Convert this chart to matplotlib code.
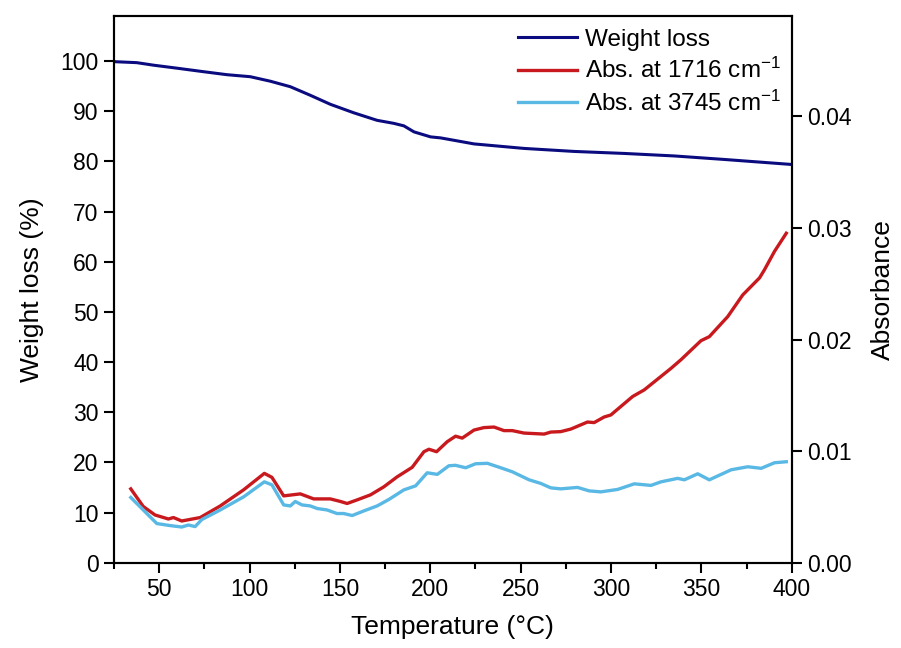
import matplotlib
matplotlib.use("Agg")
import matplotlib.pyplot as plt
import matplotlib.ticker as ticker

plt.rcParams["font.family"] = ["Liberation Sans", "DejaVu Sans"]
plt.rcParams["mathtext.default"] = "regular"

# TGA weight loss (%) vs temperature (°C)
temp_wl = [25, 37.6, 46.8, 59.8, 74.5, 87.5, 100.4, 111.5, 122.6, 133.6, 144.7,
           157.7, 170.6, 179.8, 185.4, 191.0, 200.2, 205.7, 215.0, 224.2, 251.9,
           279.6, 307.3, 335.0, 362.7, 400.0]
weight_loss = [99.9, 99.7, 99.2, 98.6, 97.9, 97.3, 96.9, 96.0, 94.9, 93.2, 91.4,
               89.7, 88.2, 87.6, 87.1, 85.9, 84.9, 84.7, 84.1, 83.5, 82.6,
               82.0, 81.6, 81.1, 80.4, 79.4]

# IR absorbance at 1716 cm-1
temp_1716 = [34.3, 41.2, 47.7, 55.1, 57.9, 62.5, 72.7, 83.8, 96.7, 108.2, 112.4,
             118.9, 128.1, 135.5, 144.7, 150.3, 154.0, 159.5, 166.9, 174.3, 181.7,
             190.0, 196.5, 199.3, 203.5, 209.4, 214.0, 217.7, 224.2, 229.7, 235.3,
             240.8, 245.4, 251.9, 263.0, 266.7, 272.2, 277.8, 287.0, 290.7, 296.2,
             299.9, 312.0, 318.4, 333.2, 338.7, 349.8, 354.4, 364.6, 372.9, 382.2,
             384.9, 390.5, 397.0]
abs_1716 = [0.00662, 0.00504, 0.00428, 0.00392, 0.00405, 0.00374, 0.00405, 0.00509,
            0.00653, 0.00801, 0.00765, 0.00599, 0.00617, 0.00572, 0.00572, 0.00549,
            0.00531, 0.00563, 0.00608, 0.00680, 0.00770, 0.00855, 0.00995, 0.01017,
            0.00995, 0.01085, 0.01134, 0.01117, 0.01189, 0.01211, 0.01216, 0.01184,
            0.01184, 0.01162, 0.01153, 0.01171, 0.01175, 0.01198, 0.01261, 0.01256,
            0.01306, 0.01324, 0.01490, 0.01549, 0.01742, 0.01819, 0.01990, 0.02026,
            0.02206, 0.02400, 0.02553, 0.02625, 0.02791, 0.02953]

# IR absorbance at 3745 cm-1
temp_3745 = [34.3, 41.2, 48.7, 56.0, 62.5, 66.2, 69.9, 73.6, 83.8, 96.7, 108.2,
             112.4, 118.9, 122.6, 125.3, 129.0, 133.6, 137.4, 142.9, 148.4, 152.1,
             156.8, 163.2, 170.6, 177.1, 185.4, 191.9, 198.3, 203.9, 210.3, 214.0,
             219.6, 225.1, 231.6, 239.0, 245.4, 254.7, 261.1, 266.7, 272.2, 281.5,
             287.9, 294.4, 303.7, 312.9, 322.1, 327.7, 336.9, 340.6, 348.0, 354.4,
             366.5, 375.7, 383.1, 390.5, 397.0]
abs_3745 = [0.00585, 0.00473, 0.00351, 0.00333, 0.00320, 0.00338, 0.00324, 0.00387,
            0.00473, 0.00590, 0.00725, 0.00698, 0.00518, 0.00509, 0.00549, 0.00518,
            0.00509, 0.00486, 0.00473, 0.00441, 0.00441, 0.00423, 0.00464, 0.00509,
            0.00567, 0.00653, 0.00689, 0.00806, 0.00792, 0.00869, 0.00873, 0.00851,
            0.00887, 0.00891, 0.00851, 0.00815, 0.00743, 0.00711, 0.00671, 0.00662,
            0.00675, 0.00644, 0.00635, 0.00657, 0.00707, 0.00693, 0.00725, 0.00756,
            0.00743, 0.00797, 0.00743, 0.00833, 0.00860, 0.00846, 0.00896, 0.00905]

C_WL = "#0b0b80"
C_1716 = "#c81a1e"
C_3745 = "#5ab8e4"

fig = plt.figure(figsize=(9.01, 6.48), dpi=100)
ax = fig.add_axes([0.1265, 0.1316, 0.7522, 0.8437])
ax2 = ax.twinx()

l1, = ax.plot(temp_wl, weight_loss, color=C_WL, lw=2.2, label="Weight loss")
l2, = ax2.plot(temp_1716, abs_1716, color=C_1716, lw=2.4, label="Abs. at 1716 cm$^{-1}$")
l3, = ax2.plot(temp_3745, abs_3745, color=C_3745, lw=2.4, label="Abs. at 3745 cm$^{-1}$")

ax.set_xlim(25, 400)
ax.set_ylim(0, 109)
ax2.set_ylim(0, 0.049)

ax.xaxis.set_major_locator(ticker.MultipleLocator(50))
ax.xaxis.set_minor_locator(ticker.MultipleLocator(25))
ax.set_yticks(range(0, 101, 10))
ax2.set_yticks([0.0, 0.01, 0.02, 0.03, 0.04])
ax2.yaxis.set_major_formatter(ticker.FormatStrFormatter("%.2f"))

for a in (ax, ax2):
    for s in a.spines.values():
        s.set_linewidth(1.5)
ax.tick_params(axis="both", which="major", direction="out", length=7, width=1.5,
               labelsize=16.5, pad=4)
ax.tick_params(axis="x", which="minor", direction="out", length=4, width=1.5)
ax.tick_params(axis="y", which="minor", left=False)
ax2.tick_params(axis="y", which="major", direction="out", length=7, width=1.5,
                labelsize=16.5, pad=4)

ax.set_xlabel("Temperature (°C)", fontsize=19, labelpad=10)
ax.set_ylabel("Weight loss (%)", fontsize=19, labelpad=12)
ax2.set_ylabel("Absorbance", fontsize=19, labelpad=14)

ax.legend(handles=[l1, l2, l3], loc="upper left", bbox_to_anchor=(0.596, 0.977),
          frameon=False, fontsize=17.5, handlelength=2.45, handletextpad=0.33,
          labelspacing=0.3, borderpad=0, borderaxespad=0)

fig.savefig("out.png", dpi=100)
